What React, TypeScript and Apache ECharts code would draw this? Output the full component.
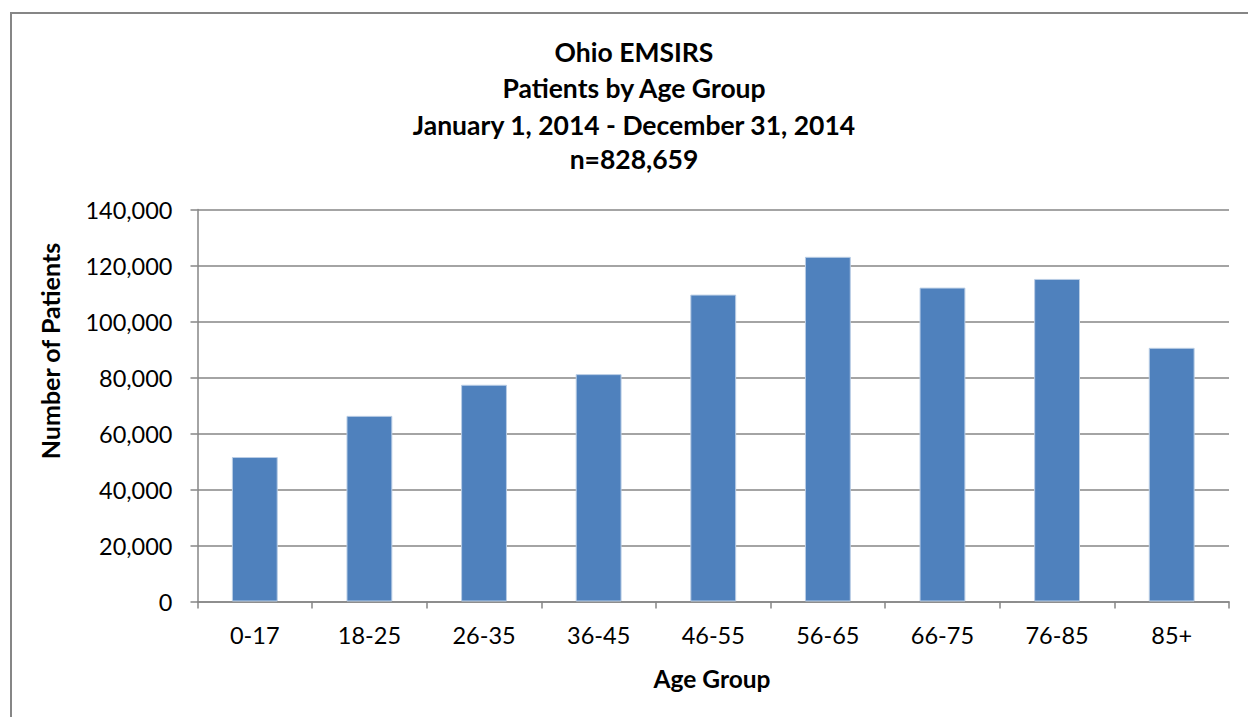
import React, { useEffect, useRef } from "react";
import * as echarts from "echarts";

const categories = ["0-17", "18-25", "26-35", "36-45", "46-55", "56-65", "66-75", "76-85", "85+"];
const patients = [51600, 66300, 77400, 81200, 109600, 123100, 112100, 115200, 90600];
const titleLines = ["Ohio EMSIRS", "Patients by Age Group", "January 1, 2014 - December 31, 2014", "n=828,659"];
const yAxisTitle = "Number of Patients";
const xAxisTitle = "Age Group";

const FONT = "Lato, 'Open Sans', sans-serif";
const GRAY = "#868686";

export default function App() {
  const ref = useRef<HTMLDivElement>(null);
  useEffect(() => {
    if (!ref.current) return;
    const chart = echarts.init(ref.current, undefined, { renderer: "svg" });
    const titleY = [52, 88, 125, 159];
    chart.setOption({
      animation: false,
      backgroundColor: "#ffffff",
      grid: { left: 197.5, right: 19, top: 209.5, bottom: 115.5, containLabel: false },
      graphic: [
        {
          type: "polyline",
          shape: { points: [[11, 717], [11, 13], [1248, 13]] },
          style: { stroke: GRAY, lineWidth: 2, fill: "none" },
          silent: true,
        },
        ...titleLines.map((t, i) => ({
          type: "text",
          x: 634,
          y: titleY[i],
          style: {
            text: t,
            align: "center",
            verticalAlign: "middle",
            font: `bold 26.5px ${FONT}`,
            fill: "#000000",
          },
        })),
        {
          type: "text",
          x: 50,
          y: 351,
          rotation: Math.PI / 2,
          style: {
            text: yAxisTitle,
            align: "center",
            verticalAlign: "middle",
            font: `bold 25px ${FONT}`,
            fill: "#000000",
          },
        },
        {
          type: "text",
          x: 712,
          y: 678,
          style: {
            text: xAxisTitle,
            align: "center",
            verticalAlign: "middle",
            font: `bold 24.5px ${FONT}`,
            fill: "#000000",
          },
        },
      ],
      xAxis: {
        type: "category",
        data: categories,
        boundaryGap: true,
        axisLine: { show: true, lineStyle: { color: GRAY, width: 1.5 } },
        axisTick: { show: true, length: 7, inside: false, alignWithLabel: false, lineStyle: { color: GRAY, width: 1.5 } },
        axisLabel: { color: "#000000", fontFamily: FONT, fontSize: 23.5, margin: 21 },
        splitLine: { show: false },
      },
      yAxis: {
        type: "value",
        min: 0,
        max: 140000,
        interval: 20000,
        axisLine: { show: true, lineStyle: { color: GRAY, width: 1.5 } },
        axisTick: { show: true, length: 7, inside: false, lineStyle: { color: GRAY, width: 1.5 } },
        axisLabel: {
          color: "#000000",
          fontFamily: FONT,
          fontSize: 23.5,
          margin: 25,
          formatter: (v: number) => v.toLocaleString("en-US"),
        },
        splitLine: { show: true, lineStyle: { color: GRAY, width: 1.5 } },
      },
      series: [
        {
          type: "bar",
          data: patients,
          barCategoryGap: "60%",
          itemStyle: { color: "#4F81BD", borderColor: "#B9CDE5", borderWidth: 1 },
        },
      ],
    });
    return () => chart.dispose();
  }, []);
  return (
    <div
      ref={ref}
      style={{ position: "fixed", left: 0, top: 0, width: 1248, height: 717, background: "#fff" }}
    />
  );
}
